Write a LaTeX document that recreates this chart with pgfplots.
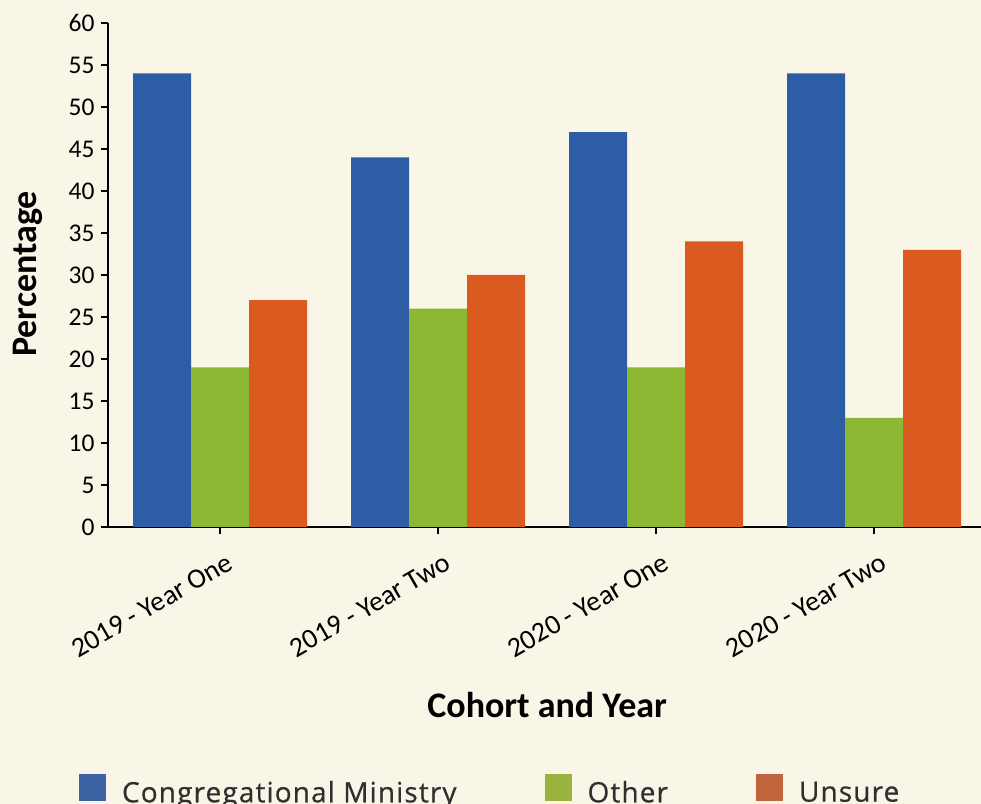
\documentclass[border=0pt]{standalone}
\usepackage{pgfplots}
\pgfplotsset{compat=1.18}
\usepackage{fontspec}
\setmainfont{Carlito}
\newfontfamily\legfont[LetterSpace=4,FakeBold=0.6]{Open Sans}
\definecolor{bg}{HTML}{F9F6E8}
\definecolor{barblue}{HTML}{2C5DA5}
\definecolor{bargreen}{HTML}{8CB833}
\definecolor{barorange}{HTML}{DB5A1F}
\definecolor{legblue}{HTML}{3D63A5}
\definecolor{leggreen}{HTML}{99B33C}
\definecolor{legorange}{HTML}{C0643B}
\definecolor{textgray}{HTML}{2F2F2F}
\begin{document}
\begin{tikzpicture}
\fill[bg] (0,0) rectangle (981bp,804bp);
\begin{axis}[
  at={(108bp,277bp)}, anchor=south west,
  scale only axis, width=873bp, height=504bp,
  xmin=-0.5138, xmax=3.4908, ymin=0, ymax=60,
  axis lines*=left,
  axis line style={line width=1.6bp, black},
  ybar, bar width=58bp,
  xtick={0,1,2,3},
  xticklabels={2019 - Year One,2019 - Year Two,2020 - Year One,2020 - Year Two},
  ytick={0,5,10,15,20,25,30,35,40,45,50,55,60},
  yticklabels={0,5,10,15,20,25,30,35,40,45,50,55,60},
  tick align=outside,
  major tick length=7bp,
  tick style={line width=1.4bp, black},
  xticklabel style={font=\fontsize{28bp}{32bp}\selectfont, rotate=30, anchor=north east, yshift=-15bp, xshift=-1bp},
  yticklabel style={font=\fontsize{25.5bp}{30bp}\selectfont, xshift=-3bp},
  ylabel={Percentage},
  ylabel style={font=\bfseries\fontsize{36bp}{40bp}\selectfont, at={(axis description cs:-0.0916,0.502)}, anchor=center},
  xlabel={Cohort and Year},
  xlabel style={font=\bfseries\fontsize{36bp}{40bp}\selectfont, at={(axis description cs:0.503,-0.353)}, anchor=center},
  legend columns=3,
  legend cell align=left,
  legend image code/.code={\fill[#1] (0bp,-9bp) rectangle (27bp,18bp);},
  legend style={at={(axis description cs:-0.0332,-0.520)}, anchor=west, draw=none, fill=none,
    font=\legfont\fontsize{28bp}{32bp}\selectfont, text=textgray,
    inner sep=0pt, outer sep=0pt, nodes={inner sep=0pt},
    /tikz/every odd column/.append style={column sep=16bp},
    /tikz/every even column/.append style={column sep=88bp}},
]
\addlegendimage{fill=legblue, draw=none}
\addlegendentry{Congregational Ministry}
\addlegendimage{fill=leggreen, draw=none}
\addlegendentry{Other}
\addlegendimage{fill=legorange, draw=none}
\addlegendentry{Unsure}
\addplot[forget plot, fill=barblue, draw=none, bar shift=-58bp] coordinates {(0,54) (1,44) (2,47) (3,54)};
\addplot[forget plot, fill=bargreen, draw=none, bar shift=0bp] coordinates {(0,19) (1,26) (2,19) (3,13)};
\addplot[forget plot, fill=barorange, draw=none, bar shift=58bp] coordinates {(0,27) (1,30) (2,34) (3,33)};
\end{axis}
\pgfresetboundingbox
\useasboundingbox (0,0) rectangle (981bp,804bp);
\end{tikzpicture}
\end{document}
